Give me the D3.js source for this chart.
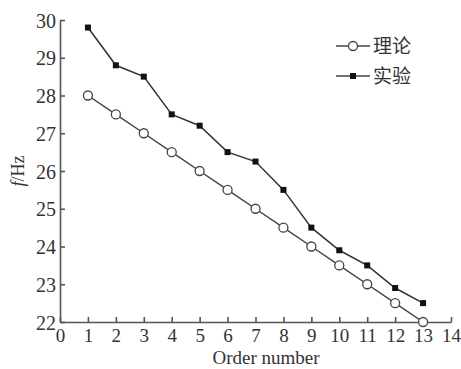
<!DOCTYPE html>
<html>
<head>
<meta charset="utf-8">
<script src="https://cdn.jsdelivr.net/npm/d3@7"></script>
<style>
body { margin: 0; background: #fff; }
text { font-family: "Liberation Serif", "Noto Sans CJK SC", serif; fill: #333; }
</style>
</head>
<body>
<div id="chart"></div>
<script>
// order numbers and frequencies (Hz)
var orders = [1, 2, 3, 4, 5, 6, 7, 8, 9, 10, 11, 12, 13];
var theory = [28, 27.5, 27, 26.5, 26, 25.5, 25, 24.5, 24, 23.5, 23, 22.5, 22];
var experiment = [29.8, 28.8, 28.5, 27.5, 27.2, 26.5, 26.25, 25.5, 24.5, 23.9, 23.5, 22.9, 22.5];
var xTicks = d3.range(0, 15);
var yTicks = [22, 23, 24, 25, 26, 27, 28, 29, 30];
var seriesNames = ["理论", "实验"];

var svgWidth = 461;
var svgHeight = 369;
var margin = {top: 20, right: 10, bottom: 47, left: 60};
var chartWidth = 451 - margin.left;
var chartHeight = 322 - margin.top;

var svg = d3.select("#chart")
  .append("svg")
  .attr("width", svgWidth)
  .attr("height", svgHeight);

var chartGroup = svg.append("g")
  .attr("transform", `translate(${margin.left}, ${margin.top})`);

var x = d3.scaleLinear().domain([0, 14]).range([0, chartWidth]);
var y = d3.scaleLinear().domain([22, 30]).range([chartHeight, 0]);

// axes with inward ticks
var bottomAxis = d3.axisBottom(x).tickValues(xTicks).tickSize(-5).tickPadding(7).tickSizeOuter(0);
var leftAxis = d3.axisLeft(y).tickValues(yTicks).tickSize(-5).tickPadding(4).tickSizeOuter(0);

var gx = chartGroup.append("g")
  .attr("transform", `translate(0, ${chartHeight})`)
  .call(bottomAxis);
var gy = chartGroup.append("g").call(leftAxis);

[gx, gy].forEach(function(g) {
  g.selectAll("path, line").attr("stroke", "#555").attr("stroke-width", 1.6);
  g.selectAll("text").style("font-size", "19px").attr("fill", "#333");
});
gy.selectAll("text").style("font-size", "20px").attr("dy", "0.35em");

var line = d3.line()
  .x((d, i) => x(orders[i]))
  .y(d => y(d));

// theory line with open circles
chartGroup.append("path")
  .datum(theory)
  .attr("fill", "none")
  .attr("stroke", "#444")
  .attr("stroke-width", 1.5)
  .attr("d", line);

chartGroup.selectAll(".theory")
  .data(theory)
  .enter()
  .append("circle")
  .attr("class", "theory")
  .attr("cx", (d, i) => x(orders[i]))
  .attr("cy", d => y(d))
  .attr("r", 4.5)
  .attr("fill", "#fff")
  .attr("stroke", "#444")
  .attr("stroke-width", 1.3);

// experiment line with filled squares
chartGroup.append("path")
  .datum(experiment)
  .attr("fill", "none")
  .attr("stroke", "#333")
  .attr("stroke-width", 1.5)
  .attr("d", line);

chartGroup.selectAll(".exp")
  .data(experiment)
  .enter()
  .append("rect")
  .attr("class", "exp")
  .attr("x", (d, i) => x(orders[i]) - 3)
  .attr("y", d => y(d) - 3)
  .attr("width", 6)
  .attr("height", 6)
  .attr("fill", "#111");

// legend
var legend = svg.append("g").attr("transform", "translate(336, 46)");
seriesNames.forEach(function(name, i) {
  var row = legend.append("g").attr("transform", `translate(0, ${i * 30})`);
  row.append("line").attr("x1", 0).attr("x2", 34).attr("y1", 0).attr("y2", 0)
    .attr("stroke", "#444").attr("stroke-width", 1.5);
  if (i == 0) {
    row.append("circle").attr("cx", 17).attr("cy", 0).attr("r", 4.5)
      .attr("fill", "#fff").attr("stroke", "#444").attr("stroke-width", 1.3);
  } else {
    row.append("rect").attr("x", 14).attr("y", -3).attr("width", 6).attr("height", 6).attr("fill", "#111");
  }
  row.append("text").attr("x", 37).attr("y", 0).attr("dy", "0.35em")
    .style("font-family", "'Noto Sans CJK SC', sans-serif")
    .style("font-size", "19px").attr("fill", "#555")
    .text(name);
});

// axis titles
svg.append("text")
  .attr("x", 266).attr("y", 364)
  .attr("text-anchor", "middle")
  .style("font-size", "19px")
  .text("Order number");

var yTitle = svg.append("text")
  .attr("transform", "translate(24, 171) rotate(-90)")
  .attr("text-anchor", "middle")
  .style("font-size", "18px");
yTitle.append("tspan").style("font-style", "italic").text("f");
yTitle.append("tspan").text("/Hz");
</script>
</body>
</html>
